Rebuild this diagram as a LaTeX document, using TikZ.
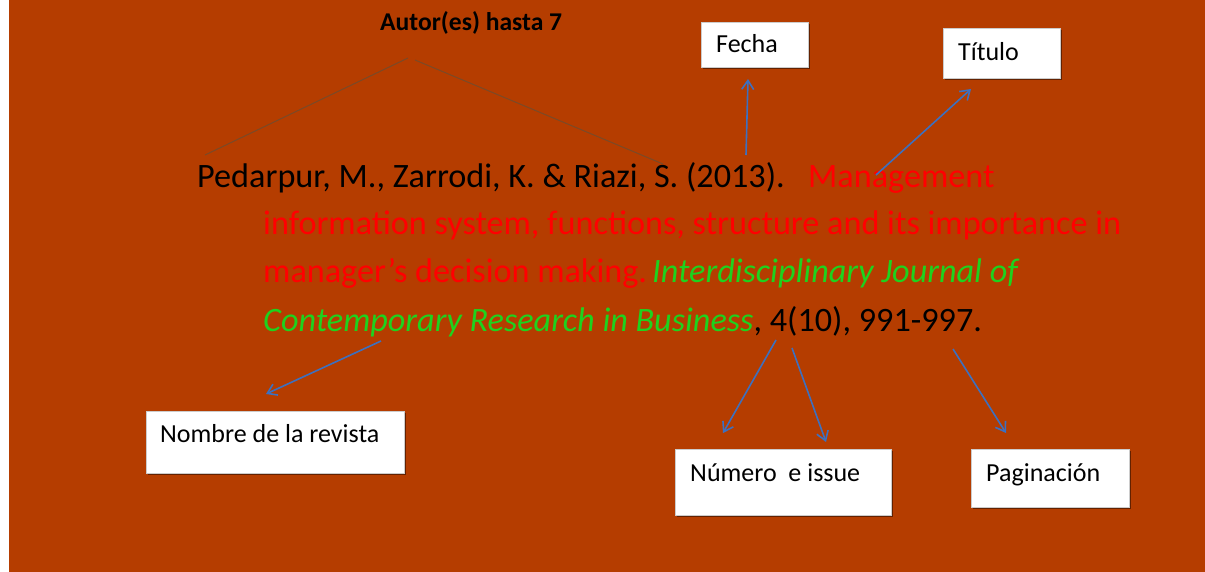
\documentclass[tikz,border=0pt]{standalone}
\usepackage{fontspec}
\setmainfont{Carlito}
\usetikzlibrary{arrows.meta,shadows}
\definecolor{bg}{HTML}{B53D00}
\definecolor{tred}{HTML}{FF0000}
\definecolor{tgreen}{HTML}{1ED21E}
\definecolor{arrowblue}{HTML}{3C70C0}
\definecolor{authline}{HTML}{7A4A28}
\begin{document}
\begin{tikzpicture}[x=1pt,y=-1pt,
  box/.style={fill=white, draw=gray!40, line width=0.5, anchor=north west, inner sep=0,
    drop shadow={shadow xshift=1.5pt, shadow yshift=-1.5pt, opacity=0.45, fill=black}},
  lbl/.style={anchor=base west, inner sep=0, font=\fontsize{26}{30}\selectfont},
  reftext/.style={anchor=base west, inner sep=0, font=\fontsize{34.2}{40}\selectfont},
  barrow/.style={draw=arrowblue, line width=1.6, -{Straight Barb[length=9,width=12,line width=1.6]}},
  aline/.style={draw=authline, line width=1}]
\useasboundingbox (0,0) rectangle (1205,572);
\fill[white] (0,0) rectangle (1205,572);
\fill[bg] (9,0) rectangle (1205,572);

% boxes
\node[box, minimum width=107pt, minimum height=45pt] (fechabox) at (701,22) {};
\node[box, minimum width=117pt, minimum height=50pt] (titulobox) at (943,28) {};
\node[box, minimum width=258pt, minimum height=62pt] (revistabox) at (146,411) {};
\node[box, minimum width=216pt, minimum height=66pt] (numerobox) at (675,449) {};
\node[box, minimum width=158pt, minimum height=58pt] (paginabox) at (971,449) {};

\node[lbl] (fechatxt) at (716,53) {Fecha};
\node[lbl] (titulotxt) at (958,61) {Título};
\node[lbl] (revistatxt) at (160,442) {Nombre de la revista};
\node[lbl] (numerotxt) at (690,481) {Número\ \ e issue};
\node[lbl] (paginatxt) at (986,481) {Paginación};
\node[lbl, font=\fontsize{25.6}{30}\selectfont\bfseries] (autortxt) at (380,31) {Autor(es) hasta 7};

% reference text
\node[reftext] (l1a) at (197,188) {Pedarpur, M., Zarrodi, K. \& Riazi, S. (2013).};
\node[reftext, text=tred] (l1b) at (808,188) {Management};
\node[reftext, text=tred] (l2) at (263,235) {information system, functions, structure and its importance in};
\node[reftext, text=tred] (l3a) at (263,283) {manager's decision making.};
\node[reftext, text=tgreen, font=\fontsize{34.2}{40}\selectfont\itshape] (l3b) at (652,283) {Interdisciplinary Journal of};
\node[reftext] (l4) at (263,331) {\textcolor{tgreen}{\itshape Contemporary Research in Business}, 4(10), 991-997.};

% author lines
\coordinate (autA) at (408,58);
\coordinate (autB) at (415,60);
\coordinate (auth1) at (205,155);
\coordinate (auth3) at (663,164);
\draw[aline] (autA) -- (auth1);
\draw[aline] (autB) -- (auth3);

% arrows
\coordinate (fechasrc) at (746,155);
\coordinate (fechatip) at (748,79);
\coordinate (titulosrc) at (876,175);
\coordinate (titulotip) at (971,89);
\coordinate (revistasrc) at (381,341);
\coordinate (revistatip) at (266,394);
\coordinate (num1src) at (776,340);
\coordinate (num1tip) at (723,433);
\coordinate (num2src) at (792,348);
\coordinate (num2tip) at (826,442);
\coordinate (pagsrc) at (953,349);
\coordinate (pagtip) at (1006,433);
\draw[barrow] (fechasrc) -- (fechatip);
\draw[barrow] (titulosrc) -- (titulotip);
\draw[barrow] (revistasrc) -- (revistatip);
\draw[barrow] (num1src) -- (num1tip);
\draw[barrow] (num2src) -- (num2tip);
\draw[barrow] (pagsrc) -- (pagtip);
\end{tikzpicture}
\end{document}
